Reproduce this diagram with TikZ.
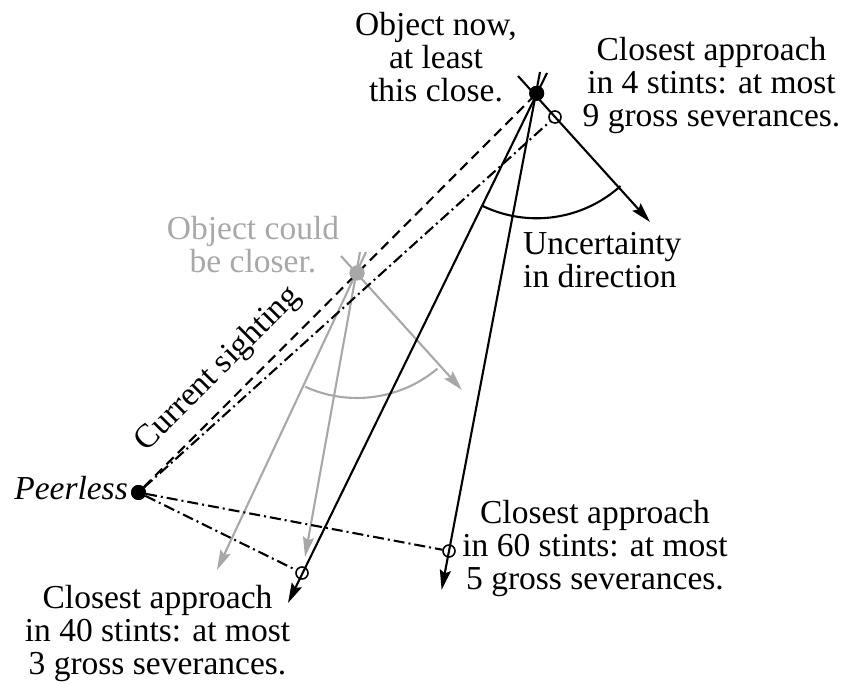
\documentclass[tikz,border=0pt]{standalone}
\usepackage{fontspec}
\setmainfont{Liberation Serif}
\usetikzlibrary{arrows.meta}
\definecolor{lgray}{RGB}{168,168,168}
\begin{document}
\begin{tikzpicture}[x=1pt,y=1pt,
  txt/.style={font=\fontsize{33.5}{33}\selectfont, inner sep=0pt, align=center},
  arr/.style={line width=2.1pt, -{Stealth[length=20pt,width=11pt,inset=3pt]}},
  sol/.style={line width=2.1pt},
  dsh/.style={line width=2.1pt, dash pattern=on 10pt off 6pt},
  dshdot/.style={line width=2.1pt, dash pattern=on 11pt off 4pt on 2pt off 4pt},
  bigdot/.style={circle, fill=black, inner sep=0pt, minimum size=15pt},
  opencirc/.style={circle, draw=black, line width=1.6pt, inner sep=0pt, minimum size=12pt},
]
\useasboundingbox (0,0) rectangle (844,684);
% key points
\node[bigdot] (O) at (536.7,590.7) {};
\node[bigdot] (P) at (138.5,191.5) {};
\node[bigdot, fill=lgray] (G) at (357,411) {};
\node[opencirc] (C4) at (555,567) {};
\node[opencirc] (C40) at (302,111) {};
\node[opencirc] (C60) at (449,133) {};
% line ends
\coordinate (as) at (518,608);
\coordinate (at) at (650,462);
\coordinate (s1) at (547,611);
\coordinate (t1) at (288,81);
\coordinate (s2) at (540,612);
\coordinate (t2) at (441.6,94);
\coordinate (gas) at (341,428);
\coordinate (gat) at (462,294);
\coordinate (gs1) at (366,432);
\coordinate (gt1) at (217,114);
\coordinate (gs2) at (360,432);
\coordinate (gt2) at (305,127);
% gray construction
\begin{scope}[draw=lgray, color=lgray]
\draw[arr] (gas) -- (gat);
\draw[arr] (gs1) -- (gt1);
\draw[arr] (gs2) -- (gt2);
\draw[sol] (G) ++(-114.5:125pt) arc[start angle=-114.5, end angle=-49.9, radius=125pt];
\end{scope}
% sighting lines
\draw[dsh] (P) -- (O);
\draw[dshdot] (P) -- (C4);
\draw[dshdot] (P) -- (C40);
\draw[dshdot] (P) -- (C60);
% black motion lines
\draw[arr] (as) -- (at);
\draw[arr] (s1) -- (t1);
\draw[arr] (s2) -- (t2);
\draw[sol] (O) ++(-115.9:125pt) arc[start angle=-115.9, end angle=-47.9, radius=125pt];
% redraw dots on top
\node[bigdot] at (O) {};
\node[bigdot] at (P) {};
\node[bigdot, fill=lgray] at (G) {};
% texts (anchor=base is the baseline of the last line)
\node[txt, anchor=base] (tO) at (436,582) {Object now,\\at least\\this close.};
\node[txt, anchor=base] (t4) at (711.5,557) {Closest approach\\in 4 stints: at most\\9 gross severances.};
\node[txt, anchor=base west, align=left] (tU) at (523,396) {Uncertainty\\in direction};
\node[txt, anchor=base, text=lgray] (tG) at (253,411) {Object could\\be closer.};
\node[txt, anchor=base, rotate=45] (tS) at (224,309) {Current sighting};
\node[txt, anchor=base east, font=\fontsize{33.5}{33}\selectfont\itshape] (tP) at (128,184) {Peerless};
\node[txt, anchor=base] (t40) at (157.5,9) {Closest approach\\in 40 stints: at most\\3 gross severances.};
\node[txt, anchor=base] (t60) at (595,94) {Closest approach\\in 60 stints: at most\\5 gross severances.};
\end{tikzpicture}
\end{document}
